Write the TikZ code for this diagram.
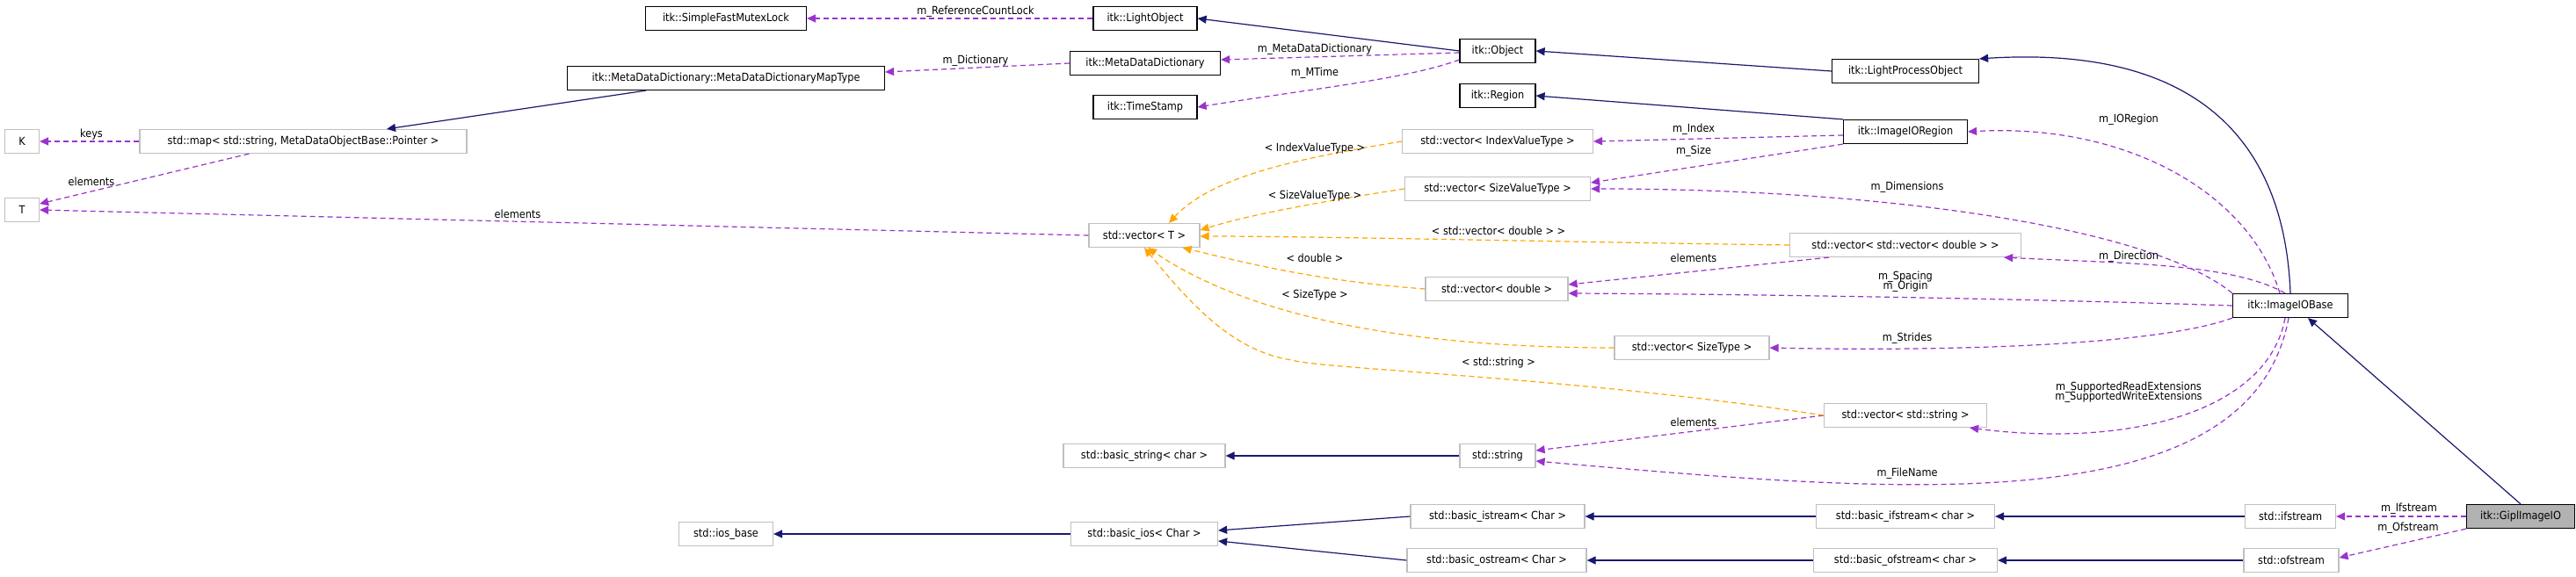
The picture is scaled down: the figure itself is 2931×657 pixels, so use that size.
\documentclass[tikz,border=0pt]{standalone}
\usepackage{fontspec}
\setmainfont{DejaVu Sans Condensed}
\usetikzlibrary{arrows.meta,calc}
\definecolor{navy}{HTML}{191970}
\definecolor{purp}{HTML}{9A32CD}
\definecolor{orng}{HTML}{FFA500}
\definecolor{gbox}{HTML}{BFBFBF}
\begin{document}
\begin{tikzpicture}[x=0.5pt,y=-0.5pt,
  ext/.style={draw=gbox,line width=0.6pt,fill=white,minimum height=13.5pt,inner sep=0pt,font=\fontsize{6.3}{7}\selectfont},
  doc/.style={ext,draw=black},
  cur/.style={doc,fill=black!30},
  lbl/.style={font=\fontsize{6.3}{7}\selectfont,inner sep=0pt},
  inh/.style={navy,line width=0.6pt,-{Triangle[length=5pt,width=4.5pt]}},
  dep/.style={purp,line width=0.6pt,dashed,dash pattern=on 3pt off 2pt,-{Triangle[length=5pt,width=4.5pt]}},
  tpl/.style={orng,line width=0.6pt,dashed,dash pattern=on 3pt off 2pt,-{Triangle[length=5pt,width=4.5pt]}}]
\useasboundingbox[fill=white] (0,0) rectangle (2931,657);
% nodes
\node[doc,minimum width=91.5pt] (sfml) at (826,21) {itk::SimpleFastMutexLock};
\node[doc,minimum width=180.5pt] (mapt) at (826,89) {itk::MetaDataDictionary::MetaDataDictionaryMapType};
\node[ext,minimum width=19.5pt] (K) at (25,161) {K};
\node[ext,minimum width=186pt] (map) at (345,161) {std::map< std::string, MetaDataObjectBase::Pointer >};
\node[ext,minimum width=19.5pt] (T) at (25,239) {T};
\node[doc,minimum width=59pt] (lo) at (1303,21) {itk::LightObject};
\node[doc,minimum width=85.5pt] (mdd) at (1303,72) {itk::MetaDataDictionary};
\node[doc,minimum width=59pt] (ts) at (1303,122) {itk::TimeStamp};
\node[doc,minimum width=43pt] (obj) at (1704,58) {itk::Object};
\node[doc,minimum width=43pt] (reg) at (1704,109) {itk::Region};
\node[ext,minimum width=108.5pt] (vidx) at (1704,161) {std::vector< IndexValueType >};
\node[ext,minimum width=105.5pt] (vsz) at (1704,215) {std::vector< SizeValueType >};
\node[ext,minimum width=63pt] (vT) at (1302,268) {std::vector< T >};
\node[ext,minimum width=81pt] (vd) at (1703,329) {std::vector< double >};
\node[ext,minimum width=88pt] (vst) at (1925,396) {std::vector< SizeType >};
\node[ext,minimum width=92pt] (bstr) at (1302,519) {std::basic\_string< char >};
\node[ext,minimum width=43pt] (str) at (1704,519) {std::string};
\node[ext,minimum width=53.5pt] (iosb) at (826,608) {std::ios\_base};
\node[ext,minimum width=83.5pt] (bios) at (1302,608) {std::basic\_ios< Char >};
\node[ext,minimum width=99pt] (bis) at (1704,588) {std::basic\_istream< Char >};
\node[ext,minimum width=102pt] (bos) at (1703,638) {std::basic\_ostream< Char >};
\node[doc,minimum width=83.5pt] (lpo) at (2168,81) {itk::LightProcessObject};
\node[doc,minimum width=70.5pt] (ioreg) at (2168,150) {itk::ImageIORegion};
\node[ext,minimum width=131.5pt] (vvd) at (2168,279) {std::vector< std::vector< double > >};
\node[doc,minimum width=65.5pt] (iob) at (2606,348) {itk::ImageIOBase};
\node[ext,minimum width=92.5pt] (vs) at (2168,473) {std::vector< std::string >};
\node[ext,minimum width=101.5pt] (bifs) at (2168,588) {std::basic\_ifstream< char >};
\node[ext,minimum width=104.5pt] (bofs) at (2168,638) {std::basic\_ofstream< char >};
\node[ext,minimum width=51.5pt] (ifs) at (2606,588) {std::ifstream};
\node[ext,minimum width=54pt] (ofs) at (2607,638) {std::ofstream};
\node[cur,minimum width=61.5pt] (gipl) at (2868,588) {itk::GiplImageIO};
% inheritance
\draw[inh] (obj.west) -- (lo.east);
\draw[inh] (lpo.west) -- (obj.east);
\draw[inh] (iob.north) .. controls (2600,180) and (2520,50) .. (lpo.north east);
\draw[inh] ($(mapt.south west)+(90,0)$) -- ($(map.north)+(95,0)$);
\draw[inh] (ioreg.north west) -- (reg.east);
\draw[inh] (gipl.north) -- ($(iob.south)+(20,0)$);
\draw[inh] (str.west) -- (bstr.east);
\draw[inh] (bis.west) -- ($(bios.east)+(0,-4)$);
\draw[inh] (bos.west) -- ($(bios.east)+(0,8)$);
\draw[inh] (bios.west) -- (iosb.east);
\draw[inh] (bifs.west) -- (bis.east);
\draw[inh] (bofs.west) -- (bos.east);
\draw[inh] (ifs.west) -- (bifs.east);
\draw[inh] (ofs.west) -- (bofs.east);
% members
\draw[dep] (lo.west) -- (sfml.east);
\node[lbl] (l1) at (1110,13) {m\_ReferenceCountLock};
\draw[dep] (mdd.west) -- ($(mapt.east)+(0,-7)$);
\node[lbl] (l2) at (1110,69) {m\_Dictionary};
\draw[dep] ($(obj.west)+(0,2)$) -- ($(mdd.east)+(0,-4)$);
\node[lbl] (l3) at (1496,56) {m\_MetaDataDictionary};
\draw[dep] ($(obj.south west)+(0,-4)$) .. controls (1600,90) and (1500,100) .. (ts.east);
\node[lbl] (l4) at (1496,83) {m\_MTime};
\draw[dep] (map.west) -- (K.east);
\node[lbl] (l5) at (104,153) {keys};
\draw[dep] ($(map.south west)+(125,0)$) -- ($(T.east)+(0,-7)$);
\node[lbl] (l6) at (104,207) {elements};
\draw[dep] (vT.west) -- (T.east);
\node[lbl] (l7) at (589,244) {elements};
\draw[dep] ($(ioreg.west)+(0,4)$) -- (vidx.east);
\node[lbl] (l8) at (1927,147) {m\_Index};
\draw[dep] (ioreg.south west) -- ($(vsz.east)+(0,-7)$);
\node[lbl] (l9) at (1927,172) {m\_Size};
\draw[dep] ($(iob.north)+(-12,0)$) .. controls (2560,220) and (2420,140) .. (ioreg.east);
\node[lbl] (l10) at (2422,136) {m\_IORegion};
\draw[dep] (iob.north west) .. controls (2450,260) and (2150,215) .. (vsz.east);
\node[lbl] (l11) at (2170,213) {m\_Dimensions};
\draw[dep] ($(iob.north)+(-6,0)$) .. controls (2540,300) and (2420,300) .. ($(vvd.south east)+(-20,0)$);
\node[lbl] (l12) at (2422,292) {m\_Direction};
\draw[dep] (iob.west) .. controls (2300,340) and (2000,335) .. ($(vd.east)+(0,5)$);
\node[lbl] (l13) at (2168,321) {\begin{tabular}{@{}c@{}}m\_Spacing\\[-1.5pt]m\_Origin\end{tabular}};
\draw[dep] ($(vvd.south west)+(45,0)$) -- ($(vd.east)+(0,-5)$);
\node[lbl] (l14) at (1927,294) {elements};
\draw[dep] (iob.south west) .. controls (2450,395) and (2200,400) .. (vst.east);
\node[lbl] (l15) at (2170,385) {m\_Strides};
\draw[dep] ($(iob.south)+(-6,0)$) .. controls (2580,470) and (2420,510) .. ($(vs.south east)+(-20,0)$);
\node[lbl] (l16) at (2422,447) {\begin{tabular}{@{}c@{}}m\_SupportedReadExtensions\\[-1.5pt]m\_SupportedWriteExtensions\end{tabular}};
\draw[dep] (vs.west) -- ($(str.east)+(0,-6)$);
\node[lbl] (l17) at (1927,481) {elements};
\draw[dep] ($(iob.south)+(-2,0)$) .. controls (2560,600) and (2150,560) .. ($(str.east)+(0,6)$);
\node[lbl] (l18) at (2170,539) {m\_FileName};
\draw[dep] (gipl.west) -- (ifs.east);
\node[lbl] (l19) at (2741,579) {m\_Ifstream};
\draw[dep] (gipl.south west) -- ($(ofs.east)+(0,-3)$);
\node[lbl] (l20) at (2740,601) {m\_Ofstream};
% templates
\draw[tpl] (vidx.west) .. controls (1480,180) and (1380,200) .. ($(vT.north)+(28,0)$);
\node[lbl] (t1) at (1496,169) {< IndexValueType >};
\draw[tpl] (vsz.west) .. controls (1500,230) and (1420,245) .. ($(vT.east)+(0,-6)$);
\node[lbl] (t2) at (1496,223) {< SizeValueType >};
\draw[tpl] (vvd.west) .. controls (1800,276) and (1500,269) .. ($(vT.east)+(0,1)$);
\node[lbl] (t3) at (1705,263) {< std::vector< double > >};
\draw[tpl] (vd.west) .. controls (1500,320) and (1420,300) .. ($(vT.south east)+(-20,0)$);
\node[lbl] (t4) at (1496,294) {< double >};
\draw[tpl] (vst.west) .. controls (1600,396) and (1420,360) .. ($(vT.south)+(4,0)$);
\node[lbl] (t5) at (1496,336) {< SizeType >};
\draw[tpl] (vs.west) .. controls (1800,430) and (1500,420) .. (1470,410) .. controls (1400,400) and (1350,340) .. ($(vT.south)+(0,0)$);
\node[lbl] (t6) at (1705,413) {< std::string >};
\end{tikzpicture}
\end{document}
